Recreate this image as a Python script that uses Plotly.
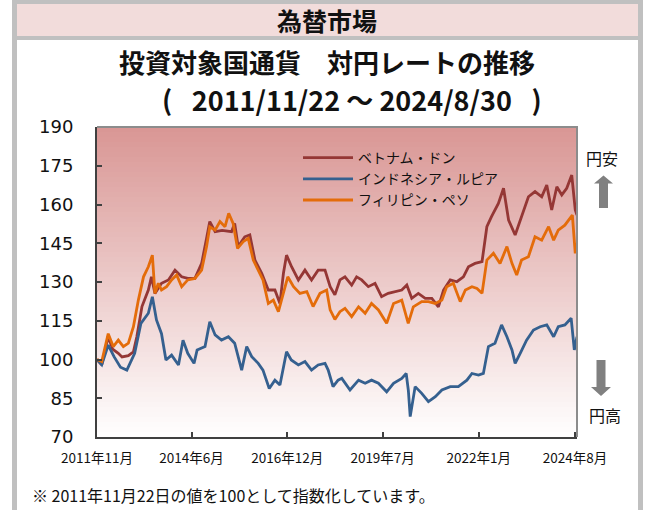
import plotly.graph_objects as go

# ---- data (index, 2011/11/22 = 100) ----
vnd_dates = [
    "2011-11-22", "2012-01-07", "2012-03-10", "2012-04-22", "2012-06-16", "2012-07-22",
    "2012-09-22", "2012-11-10", "2012-12-13", "2013-02-01", "2013-04-04", "2013-05-04",
    "2013-06-07", "2013-08-10", "2013-10-16", "2013-12-19", "2014-02-22", "2014-04-22",
    "2014-07-01", "2014-09-04", "2014-10-22", "2014-11-22", "2015-01-13", "2015-03-22",
    "2015-06-22", "2015-07-22", "2015-08-25", "2015-10-28", "2015-12-16", "2016-02-04",
    "2016-04-10", "2016-06-13", "2016-08-16", "2016-10-04", "2016-11-07", "2016-12-07",
    "2017-01-25", "2017-04-01", "2017-06-04", "2017-08-07", "2017-10-10", "2017-12-16",
    "2018-02-04", "2018-03-22", "2018-05-10", "2018-06-28", "2018-09-01", "2018-10-19",
    "2018-12-07", "2019-02-10", "2019-04-16", "2019-06-19", "2019-08-22", "2019-10-28",
    "2020-01-01", "2020-02-19", "2020-04-07", "2020-06-10", "2020-08-16", "2020-10-19",
    "2020-12-22", "2021-02-10", "2021-04-16", "2021-06-19", "2021-08-22", "2021-10-10",
    "2021-12-13", "2022-02-19", "2022-04-07", "2022-05-22", "2022-07-28", "2022-09-16",
    "2022-11-04", "2023-01-07", "2023-03-10", "2023-05-16", "2023-07-19", "2023-09-22",
    "2023-11-10", "2023-12-28", "2024-02-16", "2024-04-04", "2024-05-22", "2024-07-10",
    "2024-08-13", "2024-08-30",
]
vnd_values = [
    100, 97.9, 108.8, 104, 102.4, 101,
    101.5, 103, 108.8, 120.5, 126.9, 132,
    125.6, 129.5, 130.8, 134.6, 132, 131.4,
    131.4, 137.2, 146.9, 153.4, 149.5, 150,
    149.5, 152.7, 143.7, 147.5, 148.2, 138.5,
    133.4, 126.9, 126.9, 121.7, 133.4, 140.4,
    135.9, 130.8, 134.6, 130.8, 134.6, 134.6,
    128.2, 125, 130.8, 132, 128.8, 132,
    130.8, 128.2, 129.5, 124.3, 125.6, 126.3,
    126.9, 128.8, 123.7, 125.6, 123.7, 123.7,
    120.4, 126.9, 130.8, 130.1, 132, 135.9,
    137.2, 137.9, 151.4, 155.3, 160.4, 166.3,
    154, 148.2, 155.3, 163, 165, 163,
    167.5, 157.9, 166.9, 163.7, 166.3, 171.4,
    157.9, 155.9,
]

idr_dates = [
    "2011-11-22", "2012-01-07", "2012-03-10", "2012-05-07", "2012-07-07", "2012-09-07",
    "2012-11-22", "2013-01-22", "2013-04-04", "2013-05-13", "2013-06-22", "2013-08-10",
    "2013-09-22", "2013-11-16", "2014-01-22", "2014-03-07", "2014-04-22", "2014-06-22",
    "2014-07-22", "2014-10-07", "2014-11-22", "2015-01-13", "2015-03-16", "2015-05-22",
    "2015-07-22", "2015-09-28", "2015-11-16", "2016-01-04", "2016-03-07", "2016-04-22",
    "2016-06-22", "2016-08-16", "2016-10-04", "2016-12-07", "2017-01-22", "2017-04-01",
    "2017-06-04", "2017-08-07", "2017-10-10", "2017-12-16", "2018-01-16", "2018-03-04",
    "2018-04-22", "2018-05-28", "2018-08-16", "2018-11-07", "2019-01-10", "2019-03-13",
    "2019-05-19", "2019-08-07", "2019-10-13", "2020-01-01", "2020-02-13", "2020-03-05",
    "2020-03-23", "2020-05-10", "2020-07-13", "2020-09-16", "2020-11-22", "2021-01-25",
    "2021-04-16", "2021-07-04", "2021-09-25", "2021-11-13", "2022-01-16", "2022-03-04",
    "2022-04-22", "2022-06-25", "2022-08-28", "2022-10-19", "2022-12-07", "2023-01-07",
    "2023-02-25", "2023-04-28", "2023-07-04", "2023-09-07", "2023-11-10", "2024-01-16",
    "2024-03-01", "2024-05-04", "2024-07-04", "2024-08-04", "2024-08-30",
]
idr_values = [
    100, 98, 105.6, 101, 97, 95.9,
    102.4, 114, 117.9, 124.3, 115.3, 110,
    99.8, 101.7, 97.9, 107.5, 102.4, 98.5,
    103.7, 105, 114.6, 109.5, 107.5, 108.8,
    106.3, 95.9, 105, 101.1, 98.5, 95.9,
    88.8, 92, 90.1, 103, 99.8, 97.9,
    99.2, 95.9, 97.9, 98.5, 95.9, 89.5,
    92, 92.7, 88.2, 92, 90.8, 92,
    90.8, 87.5, 90.8, 92.7, 94.6, 88,
    77.9, 89.5, 86.9, 83.7, 85.6, 88.2,
    89.5, 89.5, 92, 94.6, 94, 94.6,
    105, 106.3, 113.4, 108.8, 103.7, 98.5,
    102.4, 107.5, 111.4, 112.7, 113.4, 108.8,
    112.7, 113.4, 116, 103.7, 108.8,
]

php_dates = [
    "2011-11-22", "2012-01-07", "2012-03-10", "2012-04-28", "2012-06-16", "2012-08-04",
    "2012-09-22", "2012-11-10", "2012-12-28", "2013-02-16", "2013-04-04", "2013-05-13",
    "2013-06-07", "2013-07-10", "2013-08-10", "2013-09-28", "2013-11-16", "2014-01-04",
    "2014-02-22", "2014-04-22", "2014-07-01", "2014-09-04", "2014-10-22", "2014-11-22",
    "2015-01-13", "2015-03-01", "2015-04-19", "2015-05-25", "2015-07-07", "2015-08-19",
    "2015-10-13", "2015-12-01", "2016-01-19", "2016-03-07", "2016-04-22", "2016-06-13",
    "2016-08-01", "2016-09-19", "2016-11-07", "2016-12-19", "2017-02-13", "2017-04-16",
    "2017-06-22", "2017-08-22", "2017-10-28", "2018-01-01", "2018-02-04", "2018-03-22",
    "2018-05-10", "2018-06-28", "2018-09-01", "2018-11-07", "2019-01-10", "2019-03-13",
    "2019-05-19", "2019-08-07", "2019-10-13", "2020-01-01", "2020-03-04", "2020-04-22",
    "2020-07-13", "2020-09-16", "2020-11-22", "2021-01-25", "2021-03-13", "2021-05-16",
    "2021-07-22", "2021-09-10", "2021-11-13", "2022-01-01", "2022-02-19", "2022-04-07",
    "2022-06-10", "2022-08-13", "2022-10-19", "2022-12-07", "2023-01-22", "2023-03-10",
    "2023-05-16", "2023-07-19", "2023-09-22", "2023-11-28", "2024-01-16", "2024-03-01",
    "2024-05-04", "2024-06-22", "2024-07-16", "2024-08-13", "2024-08-30",
]
php_values = [
    100, 99.2, 110, 105, 107.5, 105,
    106.3, 112.7, 123, 132, 135.9, 140.4,
    125.6, 129.5, 126.9, 128.2, 130.8, 132.7,
    128.2, 130.8, 131.4, 134.6, 143.7, 151.4,
    150.1, 153.4, 151.4, 156.6, 152.7, 143,
    145.6, 146.9, 138.5, 134.6, 130.8, 121.7,
    123, 118.5, 125.6, 132, 128.2, 125.6,
    126.3, 120.5, 125.6, 126.9, 119.2, 115.5,
    118.5, 119.8, 116.6, 120.4, 117.9, 121.7,
    119.2, 114, 121.7, 123, 114, 120.4,
    122.4, 122.4, 121.7, 123, 128.2, 129.5,
    122.4, 126.9, 128.2, 127.5, 125.6, 138.5,
    141.1, 137.2, 143.7, 137.2, 132.7, 138.5,
    139.8, 147.5, 146.2, 151.4, 146.2, 150.1,
    152, 154.6, 155.9, 141.1, 145,
]

series_names = ["ベトナム・ドン", "インドネシア・ルピア", "フィリピン・ペソ"]
series_colors = ["#953735", "#35608F", "#E46C0A"]

tick_dates = ["2011-11-22", "2014-05-29", "2016-12-14", "2019-06-29", "2022-01-18", "2024-08-10"]
tick_labels = ["2011年11月", "2014年6月", "2016年12月", "2019年7月", "2022年1月", "2024年8月"]

# ---- layout helpers (pixel -> paper) ----
W, H = 645, 510
L, R, T, B = 97, 577, 127, 437


def px(x):
    return (x - L) / (R - L)


def py(y):
    return (B - y) / (B - T)


JP = "Noto Sans CJK JP"

fig = go.Figure()
for d, v, n, c in zip([vnd_dates, idr_dates, php_dates],
                      [vnd_values, idr_values, php_values],
                      series_names, series_colors):
    fig.add_trace(go.Scatter(x=d, y=v, name=n, mode="lines",
                             line=dict(color=c, width=2.8)))

shapes = []
# pink gradient background of the plot area
nb = 62
top_rgb = (217, 150, 148)
bot_rgb = (255, 255, 255)
for i in range(nb):
    t = (i + 0.5) / nb
    col = tuple(round(top_rgb[k] + (bot_rgb[k] - top_rgb[k]) * t) for k in range(3))
    shapes.append(dict(type="rect", xref="paper", yref="paper", layer="below",
                       x0=0, x1=1, y0=1 - i / nb, y1=1 - (i + 1) / nb,
                       line=dict(width=0), fillcolor="rgb(%d,%d,%d)" % col))

# top/right frame of the plot area
shapes.append(dict(type="path", xref="paper", yref="paper",
                   path="M 0 1 L 1 1 L 1 0", line=dict(color="#8C8C8C", width=2)))


# outer frame and header band
def rect(x0, y0, x1, y1, color):
    return dict(type="rect", xref="paper", yref="paper", x0=px(x0), x1=px(x1),
                y0=py(y0), y1=py(y1), line=dict(width=0), fillcolor=color)


shapes += [
    rect(17, 4, 638, 36, "#F2DCDB"),
    rect(12, 0, 643, 4, "#C0C0C0"),
    rect(12, 36, 643, 40, "#C0C0C0"),
    rect(12, 0, 17, 510, "#C0C0C0"),
    rect(638, 0, 643, 510, "#C0C0C0"),
]


# block arrows (円安 / 円高)
def poly(points):
    s = "M " + " L ".join("%f %f" % (px(a), py(b)) for a, b in points) + " Z"
    return dict(type="path", xref="paper", yref="paper", path=s,
                fillcolor="#808080", line=dict(width=0))


shapes.append(poly([(603.5, 175.5), (613, 183.5), (608, 183.5), (608, 208),
                    (599, 208), (599, 183.5), (594, 183.5)]))
shapes.append(poly([(601, 396), (611, 387), (605.5, 387), (605.5, 360),
                    (596.5, 360), (596.5, 387), (591, 387)]))


def note(text, x, y, size, anchor="center", bold=False):
    return dict(text="<b>%s</b>" % text if bold else text, x=px(x), y=py(y),
                xref="paper", yref="paper", showarrow=False, xanchor=anchor,
                yanchor="middle", font=dict(family=JP, size=size, color="#111111"))


annotations = [
    note("為替市場", 327, 20, 25, bold=True),
    note("投資対象国通貨　対円レートの推移", 327, 61, 26, bold=True),
    note("(\u2002 2011/11/22 ～ 2024/8/30 \u2002)", 352, 100, 27, bold=True),
    note("円安", 601.5, 158, 16),
    note("円高", 605, 415, 16),
    note("※ 2011年11月22日の値を100として指数化しています。", 30, 495, 16, anchor="left"),
]

fig.update_layout(
    width=W, height=H,
    margin=dict(l=L, r=W - R, t=T, b=H - B, pad=0),
    paper_bgcolor="white", plot_bgcolor="white",
    shapes=shapes, annotations=annotations,
    legend=dict(x=px(298), y=py(142), xanchor="left", yanchor="top",
                bgcolor="rgba(0,0,0,0)", font=dict(family=JP, size=14, color="#111111"),
                tracegroupgap=0, itemwidth=50),
    xaxis=dict(type="date", range=["2011-11-22", "2024-08-30"],
               tickmode="array", tickvals=tick_dates, ticktext=tick_labels,
               ticks="inside", ticklen=5, tickwidth=1.5, tickcolor="#404040",
               showline=True, linecolor="#404040", linewidth=2,
               showgrid=False, zeroline=False, ticklabelstandoff=8,
               tickfont=dict(family=JP, size=13.5, color="#111111")),
    yaxis=dict(range=[70, 190], tickmode="linear", tick0=70, dtick=15,
               ticks="inside", ticklen=5, tickwidth=1.5, tickcolor="#404040",
               showline=True, linecolor="#404040", linewidth=2,
               showgrid=False, zeroline=False, ticklabelstandoff=18,
               tickfont=dict(family="DejaVu Sans", size=18, color="#111111")),
)

fig.write_html("out.html", config={"displayModeBar": False},
               post_script="document.body.style.margin='0';")
